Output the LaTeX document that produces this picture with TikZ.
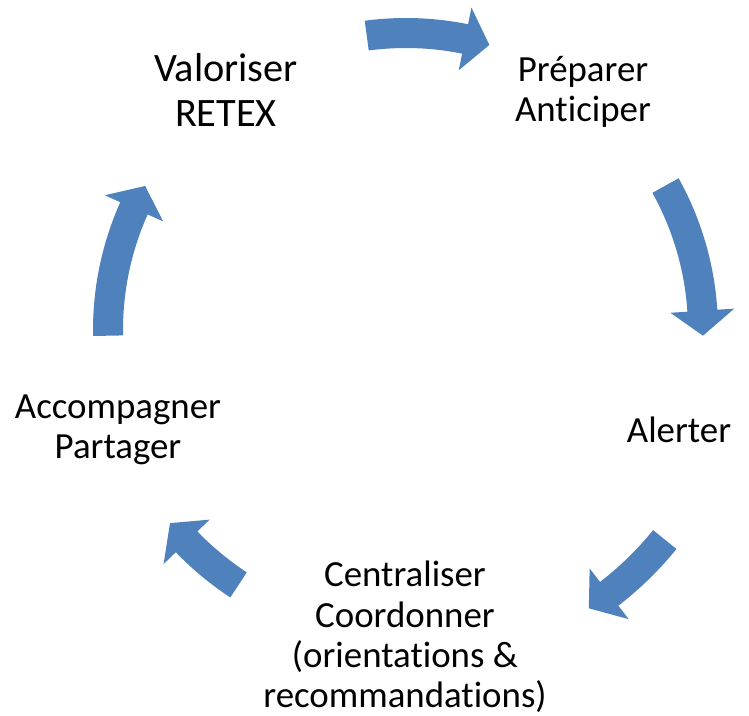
\documentclass[tikz,border=0pt]{standalone}
\usepackage{fontspec}
\setmainfont{Carlito}[RawFeature={-liga;-clig;-calt}]
\usepackage{tikz}
\definecolor{cycleblue}{RGB}{79,129,189}
\tikzset{stage/.style={align=center, inner sep=0pt, font=\fontsize{37}{40.5}\selectfont}}
\tikzset{bigstage/.style={stage, font=\fontsize{40.5}{46}\selectfont}}
\tikzset{blockarrow/.style={fill=cycleblue, draw=none}}
\newcommand{\cyclearrow}[3]{%
  \pgfmathsetmacro{\hd}{#2+25/#3*180/pi}
  \pgfmathsetmacro{\ro}{#3+15}
  \pgfmathsetmacro{\ri}{#3-15}
  \pgfmathsetmacro{\ho}{#3+32}
  \pgfmathsetmacro{\hi}{#3-32}
  \fill[blockarrow, shift={(cyc)}] (#1:\ro) arc[start angle=#1, end angle=\hd, radius=\ro]
    -- (\hd:\ho) -- (#2:#3) -- (\hd:\hi) -- (\hd:\ri)
    arc[start angle=\hd, end angle=#1, radius=\ri] -- cycle;
}

\begin{document}
\begin{tikzpicture}[x=1bp, y=1bp]
\useasboundingbox (0,0) rectangle (749,716);

\coordinate (cyc) at (406,386);

\node[bigstage] (valoriser) at (226,626) {Valoriser\\RETEX};
\node[stage] (preparer) at (583,624) {Préparer\\Anticiper};
\node[stage] (alerter) at (679,286) {Alerter};
\node[stage] (centraliser) at (405,79) {Centraliser\\Coordonner\\(orientations \&\\recommandations)};
\node[stage] (accompagner) at (118,286) {Accompagner\\Partager};

\cyclearrow{97.6}{73.7}{297}
\cyclearrow{29.1}{-1.1}{297}
\cyclearrow{-39}{-56.7}{333}
\cyclearrow{-123.3}{-140.7}{305}
\cyclearrow{181.1}{151.1}{298}
\end{tikzpicture}
\end{document}
